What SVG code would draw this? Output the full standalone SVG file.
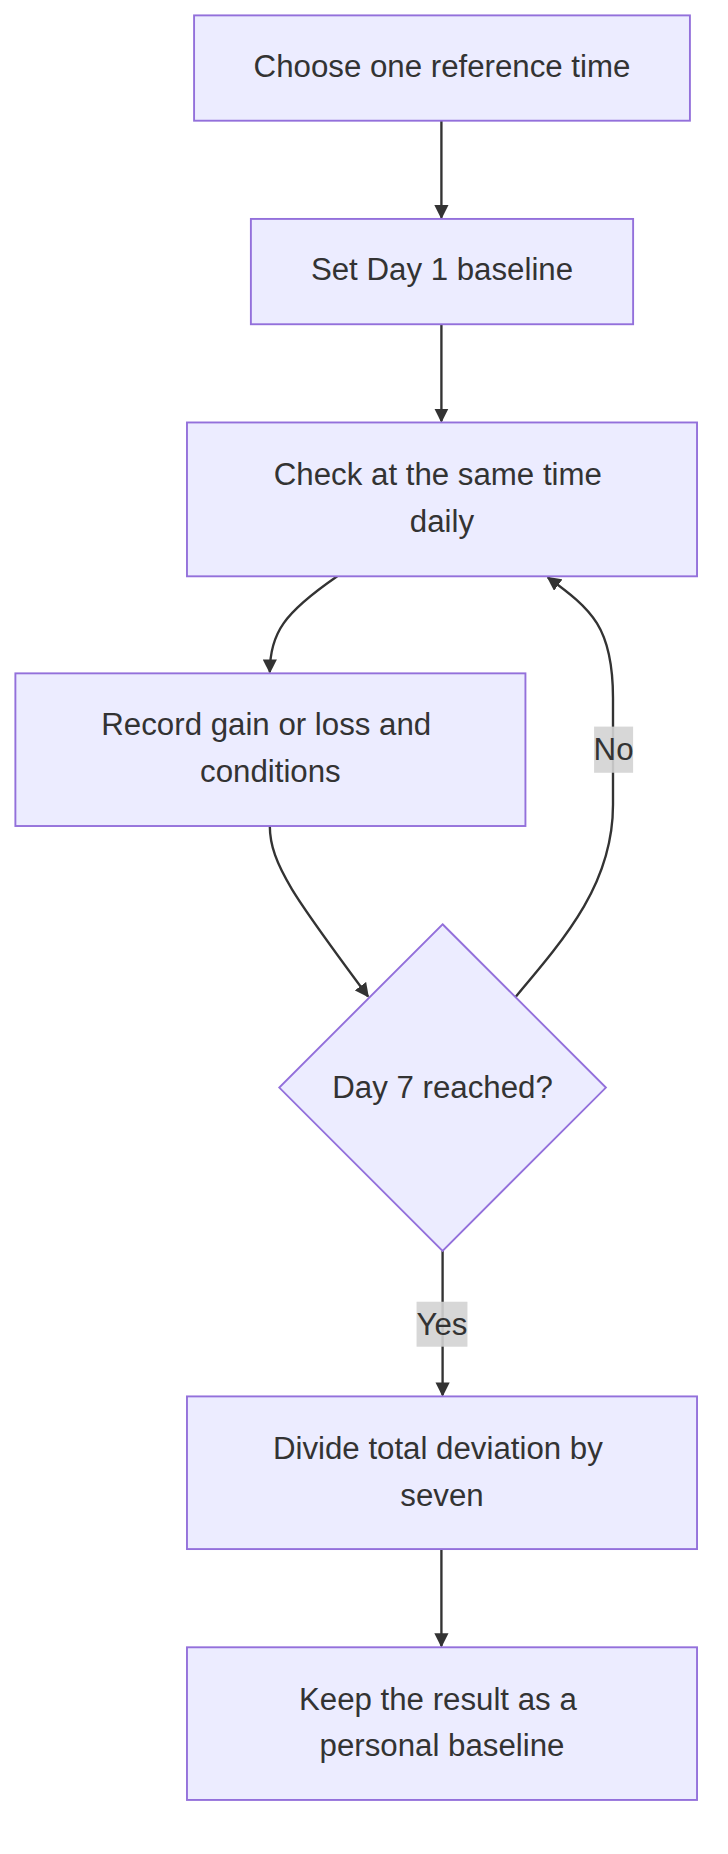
<svg xmlns="http://www.w3.org/2000/svg" width="728" height="1854" viewBox="0 0 728 1854">
<defs>
<style>
.n{fill:#ECECFF;stroke:#9370DB;stroke-width:1.6}
.t{font-family:"Liberation Sans",Arial,sans-serif;font-size:26.4px;fill:#333;text-anchor:middle;dominant-baseline:central}
.e{fill:none;stroke:#333;stroke-width:2}
.lb{fill:#d3d3d3;opacity:0.9}
</style>
<marker id="a" viewBox="0 0 10 10" refX="9" refY="5" markerWidth="12" markerHeight="12" orient="auto-start-reverse" markerUnits="userSpaceOnUse"><path d="M0,0L10,5L0,10z" fill="#333"/></marker>
</defs>
<rect width="728" height="1854" fill="#fff"/>
<g transform="scale(1.1834)">
<g id="edges">
<path class="e" d="M373,102L373,184" marker-end="url(#a)"/>
<path class="e" d="M373,274L373,356" marker-end="url(#a)"/>
<path class="e" d="M285,487C240,518 228,535 228,568" marker-end="url(#a)"/>
<path class="e" d="M228,698C228,730 250,760 311,842" marker-end="url(#a)"/>
<path class="e" d="M436,842C480,790 518,745 518,680L518,590C518,530 500,515 463,488" marker-end="url(#a)"/>
<path class="e" d="M374,1057L374,1179" marker-end="url(#a)"/>
<path class="e" d="M373,1309L373,1391" marker-end="url(#a)"/>
<rect class="lb" x="502" y="614" width="33" height="39"/>
<text class="t" x="518.5" y="633">No</text>
<rect class="lb" x="352" y="1100" width="43" height="38"/>
<text class="t" x="373.5" y="1119">Yes</text>
</g>
<g id="n1"><rect class="n" x="164" y="13" width="419" height="89"/><text class="t" x="373.5" y="56">Choose one reference time</text></g>
<g id="n2"><rect class="n" x="212" y="185" width="323" height="89"/><text class="t" x="373.5" y="228">Set Day 1 baseline</text></g>
<g id="n3"><rect class="n" x="158" y="357" width="431" height="130"/><text class="t" x="370" y="401">Check at the same time</text><text class="t" x="373.5" y="441">daily</text></g>
<g id="n4"><rect class="n" x="13" y="569" width="431" height="129"/><text class="t" x="225" y="612">Record gain or loss and</text><text class="t" x="228.5" y="652">conditions</text></g>
<g id="n5"><polygon class="n" points="374,781 512,919 374,1057 236,919"/><text class="t" x="374" y="919">Day 7 reached?</text></g>
<g id="n6"><rect class="n" x="158" y="1180" width="431" height="129"/><text class="t" x="370" y="1224">Divide total deviation by</text><text class="t" x="373.5" y="1264">seven</text></g>
<g id="n7"><rect class="n" x="158" y="1392" width="431" height="129"/><text class="t" x="370" y="1436">Keep the result as a</text><text class="t" x="373.5" y="1475">personal baseline</text></g>
</g>
</svg>
